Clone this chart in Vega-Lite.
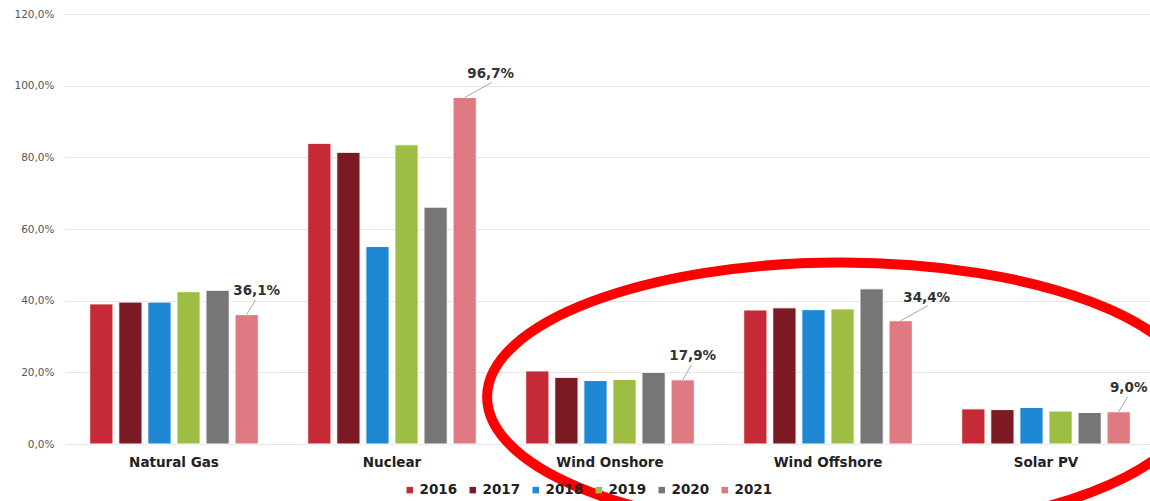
{
  "$schema": "https://vega.github.io/schema/vega-lite/v6.json",
  "autosize": "none",
  "padding": {"left": 65, "top": 14, "right": 0, "bottom": 57},
  "width": 1085,
  "height": 430,
  "background": "white",
  "config": {
    "view": {"stroke": null},
    "font": "DejaVu Sans",
    "locale": {"number": {"decimal": ",", "thousands": ".", "grouping": [3], "currency": ["", " €"]}}
  },
  "data": {
    "values": [
      {"source": "Natural Gas", "year": "2016", "value": 0.391},
      {"source": "Natural Gas", "year": "2017", "value": 0.396},
      {"source": "Natural Gas", "year": "2018", "value": 0.396},
      {"source": "Natural Gas", "year": "2019", "value": 0.425},
      {"source": "Natural Gas", "year": "2020", "value": 0.429},
      {"source": "Natural Gas", "year": "2021", "value": 0.361},
      {"source": "Nuclear", "year": "2016", "value": 0.839},
      {"source": "Nuclear", "year": "2017", "value": 0.814},
      {"source": "Nuclear", "year": "2018", "value": 0.551},
      {"source": "Nuclear", "year": "2019", "value": 0.835},
      {"source": "Nuclear", "year": "2020", "value": 0.661},
      {"source": "Nuclear", "year": "2021", "value": 0.967},
      {"source": "Wind Onshore", "year": "2016", "value": 0.204},
      {"source": "Wind Onshore", "year": "2017", "value": 0.186},
      {"source": "Wind Onshore", "year": "2018", "value": 0.177},
      {"source": "Wind Onshore", "year": "2019", "value": 0.180},
      {"source": "Wind Onshore", "year": "2020", "value": 0.200},
      {"source": "Wind Onshore", "year": "2021", "value": 0.179},
      {"source": "Wind Offshore", "year": "2016", "value": 0.374},
      {"source": "Wind Offshore", "year": "2017", "value": 0.380},
      {"source": "Wind Offshore", "year": "2018", "value": 0.375},
      {"source": "Wind Offshore", "year": "2019", "value": 0.377},
      {"source": "Wind Offshore", "year": "2020", "value": 0.433},
      {"source": "Wind Offshore", "year": "2021", "value": 0.344},
      {"source": "Solar PV", "year": "2016", "value": 0.098},
      {"source": "Solar PV", "year": "2017", "value": 0.096},
      {"source": "Solar PV", "year": "2018", "value": 0.102},
      {"source": "Solar PV", "year": "2019", "value": 0.092},
      {"source": "Solar PV", "year": "2020", "value": 0.088},
      {"source": "Solar PV", "year": "2021", "value": 0.090}
    ]
  },
  "encoding": {
    "x": {
      "field": "source", "type": "nominal", "sort": null,
      "scale": {"paddingInner": 0.2, "paddingOuter": 0.0885, "align": 0.565},
      "axis": {"title": null, "labelAngle": 0, "domain": false, "ticks": false, "labelPadding": 11,
               "labelFont": "DejaVu Sans", "labelFontSize": 13.5, "labelFontWeight": "bold", "labelColor": "#222"}
    },
    "y": {
      "field": "value", "type": "quantitative",
      "scale": {"domain": [0, 1.2], "nice": false},
      "axis": {"title": null, "values": [0, 0.2, 0.4, 0.6, 0.8, 1.0, 1.2], "format": ".1%", "domain": false, "ticks": false,
               "labelPadding": 11, "labelFont": "DejaVu Sans", "labelFontSize": 10.5, "labelColor": "#555",
               "gridColor": "#e6e6e6", "gridWidth": 1}
    }
  },
  "layer": [
    {
      "mark": {"type": "bar", "stroke": "white", "strokeWidth": 1},
      "encoding": {
        "xOffset": {"field": "year", "type": "nominal", "scale": {"paddingInner": 0.2, "paddingOuter": 0.1}},
        "color": {
          "field": "year", "type": "nominal",
          "scale": {"domain": ["2016", "2017", "2018", "2019", "2020", "2021"],
                    "range": ["#c62a37", "#7b1a22", "#1e88d4", "#9ebd45", "#767676", "#e07a82"]},
          "legend": {"title": null, "orient": "none", "direction": "horizontal", "legendX": 338, "legendY": 469,
                     "symbolType": "square", "symbolSize": 42, "symbolStrokeWidth": 0, "labelOffset": 3, "columnPadding": 8,
                     "labelFont": "DejaVu Sans", "labelFontSize": 13.5, "labelFontWeight": "bold", "labelColor": "#222"}
        }
      }
    },
    {
      "transform": [{"filter": "datum.year == '2021' && (datum.source == 'Natural Gas' || datum.source == 'Wind Onshore' || datum.source == 'Solar PV')"}],
      "mark": {"type": "point", "shape": "M0,0L0.45,-0.75", "size": 1600, "filled": false, "color": "#aaaaaa", "strokeWidth": 1, "opacity": 1},
      "encoding": {"xOffset": {"field": "year", "type": "nominal"}}
    },
    {
      "transform": [{"filter": "datum.year == '2021' && (datum.source == 'Nuclear' || datum.source == 'Wind Offshore')"}],
      "mark": {"type": "point", "shape": "M0,0L1.35,-0.75", "size": 1600, "filled": false, "color": "#aaaaaa", "strokeWidth": 1, "opacity": 1},
      "encoding": {"xOffset": {"field": "year", "type": "nominal"}}
    },
    {
      "transform": [{"filter": "datum.year == '2021' && (datum.source == 'Natural Gas' || datum.source == 'Wind Onshore' || datum.source == 'Solar PV')"}],
      "mark": {"type": "text", "dx": 10, "dy": -24, "baseline": "middle", "align": "center", "font": "DejaVu Sans", "fontSize": 13.5, "fontWeight": "bold", "color": "#333"},
      "encoding": {"xOffset": {"field": "year", "type": "nominal"}, "text": {"field": "value", "type": "quantitative", "format": ".1%"}}
    },
    {
      "transform": [{"filter": "datum.year == '2021' && (datum.source == 'Nuclear' || datum.source == 'Wind Offshore')"}],
      "mark": {"type": "text", "dx": 26, "dy": -23, "baseline": "middle", "align": "center", "font": "DejaVu Sans", "fontSize": 13.5, "fontWeight": "bold", "color": "#333"},
      "encoding": {"xOffset": {"field": "year", "type": "nominal"}, "text": {"field": "value", "type": "quantitative", "format": ".1%"}}
    },
    {
      "data": {"values": [{"source": "Wind Offshore", "value": 0.131}]},
      "mark": {"type": "point", "shape": "M-0.963,0A1,0.38 0 1,0 1.037,0A1,0.38 0 1,0 -0.963,0Z", "size": 501264, "filled": false, "color": "#ff0000", "strokeWidth": 10, "opacity": 1}
    }
  ]
}
